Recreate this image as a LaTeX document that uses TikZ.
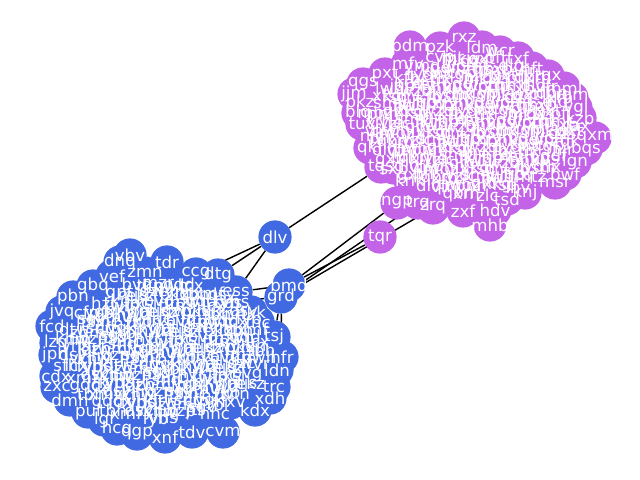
\documentclass[tikz,border=0pt]{standalone}
\usepackage{fontspec}
\setmainfont{DejaVu Sans}
\pgfdeclarelayer{edges}
\pgfsetlayers{edges,main}
\definecolor{nodeblue}{RGB}{65,105,225}
\definecolor{nodepurple}{RGB}{195,100,232}
\tikzset{
	bnode/.style={circle, fill=nodeblue, minimum size=0.83cm, inner sep=0pt},
	pnode/.style={circle, fill=nodepurple, minimum size=0.83cm, inner sep=0pt},
	glab/.style={text=white, inner sep=0pt, font=\fontsize{11.8}{12}\selectfont},
	link/.style={draw=black, line width=1pt}
}
% circle now, its text is kept for the end
\gdef\alllabs{}
\newcommand{\gnode}[5]{%
	\node[#1] (#2) at (#3,#4) {};
	\ifx\alllabs\empty\xdef\alllabs{#2/#5}\else\xdef\alllabs{\alllabs,#2/#5}\fi}
\def\blabs{{"qmv","hzt","rkp","wfn","jdc","xsl","bvg","tkn","mzr","pwh","gqd","lcx","fyb","vns","kjr","dtw","zhm","snq","cfp","ygk","rbl","nxv","hwd","qpt","mjs","ekz","gzc","wvr","pkx","lqn","tbh","xmf","dsy","vcj","knw","frq","bzp","jtl","sgv","hnc"}}
\def\plabs{{"wzq","kfh","ryd","bsm","tlx","nqg","cvp","hjr","mkw","dzs","gxt","pfl","qbn","xrh","vjd","zlc","smy","fkt","lwb","jgp","rcq","ntz","bhx","ymd","kvs","gdf","wpj","crn","zqk","hmt","sxb","dlq","vfr","tjw","mbz","pnh","qrc","xkg","fsd","lhv"}}
\begin{document}
\begin{tikzpicture}[x=0.025cm, y=-0.025cm]
	\useasboundingbox (0,0) rectangle (640,480);
	% blue cluster, inner part
	\foreach \r in {0,...,15} {
		\foreach \c in {0,...,18} {
			\pgfmathsetmacro\gx{69+\c*11+mod(\r,2)*5.5+mod(\c*7+\r*3,5)}
			\pgfmathsetmacro\gy{284+\r*9+mod(\c*3,4)}
			\pgfmathtruncatemacro\inside{((\gx-167)/98)*((\gx-167)/98)+((\gy-352)/70)*((\gy-352)/70)<1}
			\ifnum\inside=1
				\pgfmathtruncatemacro\k{mod(\r*19+\c,40)}
				\pgfmathparse{\blabs[\k]}\let\lab\pgfmathresult
				\gnode{bnode}{b\r-\c}{\gx}{\gy}{\lab}
			\fi
		}
	}
	% blue cluster, rim
	\foreach \n/\x/\y in {vbv/130/255, dnq/120/262, tdr/167/262, zmn/145/273, vef/112/276,
		ccg/196/274, dtg/218/275, ess/236/292, cbs/228/302, nkk/251/312, fnc/258/322,
		tsj/274/337, hfr/282/357, ldn/277/370, trc/274/387, xdh/270/398, kdx/255/410,
		cvm/223/432, tdv/192/432, xnf/165/437, qgp/137/434, hcq/117/429, lgl/104/420,
		pul/88/412, dmh/70/400, zxc/57/387, cdx/56/376, sfh/66/365, jph/55/355,
		lzq/56/343, fcd/52/326, jvq/62/312, pbn/73/297, gbq/93/286,
		bmd/289/285, grd/281/297, dlv/275/237}
		\gnode{bnode}{\n}{\x}{\y}{\n};
	% purple cluster, inner part
	\foreach \r in {0,...,15} {
		\foreach \c in {0,...,18} {
			\pgfmathsetmacro\gx{372+\c*11+mod(\r,2)*5.5+mod(\c*7+\r*3,5)}
			\pgfmathsetmacro\gy{58+\r*9+mod(\c*3,4)}
			\pgfmathtruncatemacro\inside{((\gx-472)/100)*((\gx-472)/100)+((\gy-126)/70)*((\gy-126)/70)<1}
			\ifnum\inside=1
				\pgfmathtruncatemacro\k{mod(\r*19+\c,40)}
				\pgfmathparse{\plabs[\k]}\let\lab\pgfmathresult
				\gnode{pnode}{p\r-\c}{\gx}{\gy}{\lab}
			\fi
		}
	}
	% purple cluster, rim
	\foreach \n/\x/\y in {pdm/410/47, pzk/440/48, rxz/464/38, ldm/482/47, wcr/500/52,
		mfv/408/63, txf/518/58, hft/532/68, pxt/385/74, qgs/363/84, jjm/354/94,
		pkz/360/103, blq/358/113, tuv/362/124, njc/372/137, qkf/370/148, tqs/381/167,
		knk/410/180, ngp/397/203, trq/418/203, zrq/433/208, zxf/463/211, hdv/495/210,
		mhb/490/225, tsd/507/199, knj/525/193, msr/555/183, bwf/565/174, ign/575/162,
		bqs/586/149, qxm/595/138, jax/578/127, kzb/580/118, vgl/576/108, rgm/572/98,
		mml/564/88, tqx/548/76, tqr/380/237}
		\gnode{pnode}{\n}{\x}{\y}{\n};
	% all texts above all circles
	\foreach \n/\t in \alllabs
		\node[glab] at (\n.center) {\t};
	% edges below all nodes
	\begin{pgfonlayer}{edges}
		\draw[link] (dlv) -- (tqs);
		\draw[link] (dlv) -- (ccg);
		\draw[link] (dlv) -- (dtg);
		\draw[link] (dlv) -- (ess);
		\draw[link] (ngp) -- (bmd);
		\draw[link] (tqr) -- (bmd);
		\draw[link] (trq) -- (grd);
		\draw[link] (zrq) -- (grd);
		\draw[link] (bmd) -- (ess);
		\draw[link] (grd) -- (cbs);
		\draw[link] (grd) -- (tsj);
		\draw[link] (grd) -- (hfr);
	\end{pgfonlayer}
\end{tikzpicture}
\end{document}
